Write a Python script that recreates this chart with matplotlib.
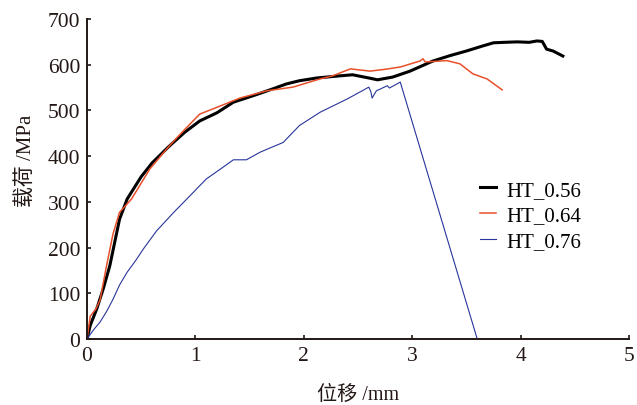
import matplotlib
matplotlib.use("Agg")
import matplotlib.pyplot as plt

plt.rcParams['font.family'] = ['Liberation Serif', 'Noto Sans CJK SC']

# HT_0.56 (black)
x_056 = [0, 0.03, 0.09, 0.15, 0.21, 0.30, 0.37, 0.42, 0.5, 0.6, 0.75, 0.9, 1.04, 1.2, 1.35,
         1.53, 1.7, 1.84, 1.96, 2.12, 2.3, 2.45, 2.6, 2.68, 2.82, 2.98, 3.19, 3.35, 3.5,
         3.65, 3.75, 3.85, 3.97, 4.08, 4.15, 4.20, 4.24, 4.30, 4.39]
y_056 = [0, 30, 66, 110, 160, 262, 306, 325, 355, 385, 420, 452, 477, 495, 518,
         532, 546, 558, 565, 571, 575, 578, 571, 567, 573, 586, 608, 620, 630,
         641, 648, 649, 650, 649, 652, 651, 634, 630, 619]

# HT_0.64 (red)
x_064 = [0, 0.03, 0.08, 0.12, 0.18, 0.24, 0.30, 0.41, 0.58, 0.75, 0.9, 1.04, 1.2, 1.41,
         1.66, 1.9, 2.15, 2.27, 2.43, 2.61, 2.75, 2.89, 3.07, 3.10, 3.12, 3.32, 3.44,
         3.56, 3.69, 3.83]
y_064 = [0, 50, 65, 85, 160, 230, 277, 306, 372, 420, 458, 492, 507, 527,
         543, 551, 569, 576, 591, 586, 590, 595, 608, 613, 606, 609, 602,
         580, 569, 545]

# HT_0.76 (blue)
x_076 = [0, 0.06, 0.12, 0.18, 0.24, 0.30, 0.37, 0.45, 0.52, 0.64, 0.80, 0.92, 1.10, 1.25,
         1.35, 1.47, 1.60, 1.81, 1.96, 2.15, 2.40, 2.60, 2.62, 2.63, 2.67, 2.77,
         2.79, 2.89, 3.60]
y_076 = [0, 20, 37, 60, 87, 118, 146, 172, 197, 236, 277, 306, 350, 375,
         392, 392, 409, 430, 467, 496, 525, 551, 540, 527, 543, 554,
         549, 562, 0]

fig = plt.figure(figsize=(6.37, 4.06), dpi=100)
ax = fig.add_axes([0.1366, 0.1626, 0.8508, 0.7881])

ax.plot(x_056, y_056, color='black', lw=2.2, label='HT_0.56')
ax.plot(x_064, y_064, color='#e8502a', lw=1.1, label='HT_0.64')
ax.plot(x_076, y_076, color='#27359a', lw=0.8, label='HT_0.76')

ax.set_xlim(0, 5)
ax.set_ylim(0, 700)
ax.set_xticks([0, 1, 2, 3, 4, 5])
ax.set_yticks(range(0, 701, 100))
for s in ['top', 'right']:
    ax.spines[s].set_visible(False)
for s in ['left', 'bottom']:
    ax.spines[s].set_linewidth(1.4)
    ax.spines[s].set_color('#231815')
ax.tick_params(direction='in', length=3, width=1.2, colors='#231815',
               labelsize=15.5, pad=5)

ax.set_xlabel('位移 /mm', fontsize=14.5, color='#231815', labelpad=14)
ax.set_ylabel('载荷 /MPa', fontsize=15, color='#231815')
ax.yaxis.set_label_coords(-0.095, 0.56)

ax.legend(loc='upper left', bbox_to_anchor=(0.69, 0.555), frameon=False,
          fontsize=15, handlelength=0.8, handletextpad=0.5, labelspacing=0.3)

fig.savefig('out.png', dpi=100)
